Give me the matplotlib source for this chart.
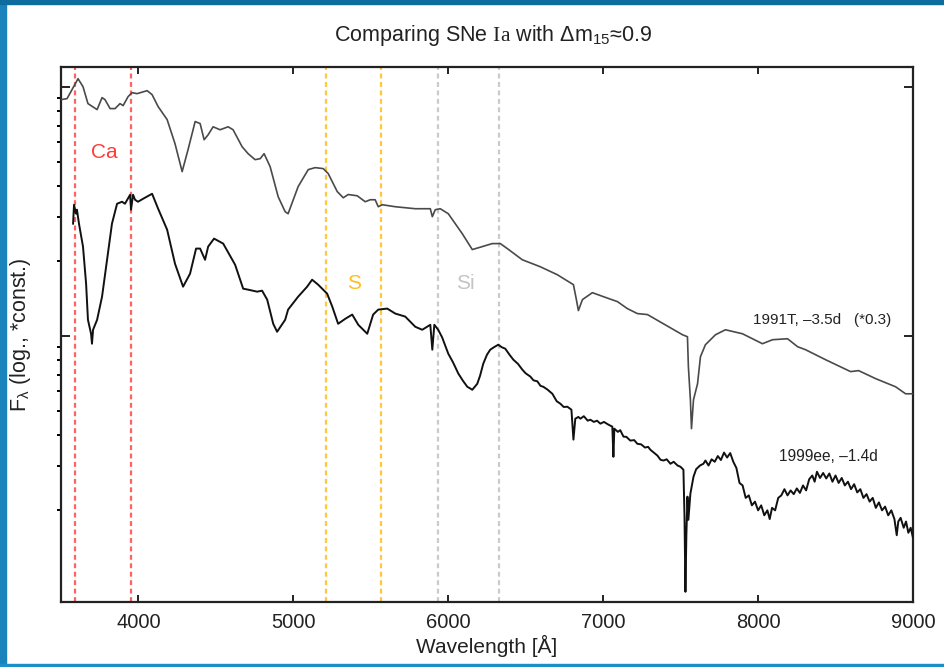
import matplotlib
matplotlib.use('Agg')
import matplotlib.pyplot as plt
from matplotlib.patches import Rectangle
from matplotlib.ticker import FixedLocator, NullFormatter
import numpy as np

plt.rcParams['font.family'] = ['Liberation Sans', 'DejaVu Sans']
plt.rcParams['mathtext.fontset'] = 'custom'
plt.rcParams['mathtext.rm'] = 'Liberation Serif'
plt.rcParams['mathtext.sf'] = 'Liberation Sans'
plt.rcParams['mathtext.it'] = 'Liberation Sans:italic'

# 1991T, -3.5d (scaled by 0.3): wavelength [A], log10 flux
wl_91t = [3500, 3539, 3610, 3642, 3674, 3733, 3765, 3784, 3817, 3849, 3881, 3901,
          3933, 3959, 3991, 4056, 4088, 4127, 4185, 4236, 4282, 4320, 4366, 4398,
          4424, 4450, 4482, 4527, 4579, 4611, 4669, 4708, 4753, 4786, 4811, 4850,
          4902, 4947, 4966, 5031, 5096, 5141, 5193, 5225, 5283, 5322, 5354, 5412,
          5464, 5496, 5528, 5548, 5574, 5658, 5787, 5884, 5897, 5916, 5948, 6000,
          6090, 6155, 6220, 6284, 6336, 6381, 6478, 6594, 6704, 6808, 6827, 6840,
          6866, 6930, 7001, 7092, 7156, 7221, 7286, 7389, 7512, 7544, 7550, 7563,
          7570, 7583, 7609, 7628, 7660, 7725, 7789, 7899, 8028, 8093, 8190, 8255,
          8306, 8435, 8597, 8649, 8758, 8888, 8952, 9000]
logf_91t = [0.949, 0.953, 1.033, 1.001, 0.933, 0.909, 0.957, 0.949, 0.913, 0.913, 0.933, 0.925,
            0.961, 0.977, 0.973, 0.985, 0.969, 0.921, 0.869, 0.772, 0.660, 0.748, 0.861, 0.853,
            0.788, 0.808, 0.840, 0.828, 0.840, 0.828, 0.760, 0.732, 0.708, 0.712, 0.732, 0.680,
            0.559, 0.499, 0.491, 0.600, 0.668, 0.676, 0.672, 0.652, 0.580, 0.555, 0.568, 0.563,
            0.539, 0.547, 0.547, 0.519, 0.527, 0.519, 0.511, 0.511, 0.479, 0.507, 0.511, 0.491,
            0.411, 0.347, 0.359, 0.371, 0.371, 0.351, 0.306, 0.278, 0.246, 0.206, 0.146, 0.102,
            0.146, 0.174, 0.158, 0.138, 0.110, 0.090, 0.086, 0.049, 0.005, -0.003, -0.123, -0.256,
            -0.372, -0.256, -0.192, -0.083, -0.035, 0.005, 0.025, 0.009, -0.031, -0.015, -0.011, -0.043,
            -0.055, -0.095, -0.143, -0.139, -0.171, -0.204, -0.232, -0.232]

# 1999ee, -1.4d: wavelength [A], log10 flux
wl_99ee = [3578, 3584, 3597, 3603, 3616, 3642, 3662, 3674, 3694, 3700, 3707, 3733,
           3765, 3797, 3829, 3862, 3894, 3913, 3946, 3952, 3965, 3978, 3997, 4030,
           4088, 4127, 4185, 4236, 4288, 4333, 4372, 4398, 4430, 4450, 4488, 4547,
           4624, 4676, 4708, 4766, 4798, 4831, 4870, 4895, 4947, 4966, 5031, 5089,
           5121, 5160, 5218, 5251, 5289, 5335, 5380, 5419, 5477, 5515, 5548, 5606,
           5658, 5722, 5787, 5832, 5884, 5897, 5910, 5935, 5960, 6000, 6030, 6065,
           6095, 6123, 6140, 6155, 6170, 6187, 6205, 6226, 6250, 6271, 6295, 6323,
           6345, 6368, 6395, 6420, 6450, 6478, 6500, 6530, 6550, 6575, 6595, 6614,
           6640, 6672, 6700, 6724, 6745, 6769, 6795, 6808, 6820, 6840, 6853, 6875,
           6900, 6917, 6940, 6960, 6982, 7005, 7034, 7059, 7066, 7072, 7095, 7110,
           7131, 7150, 7175, 7200, 7221, 7245, 7270, 7290, 7305, 7330, 7350, 7370,
           7390, 7410, 7434, 7455, 7480, 7499, 7518, 7525, 7531, 7537, 7544, 7550,
           7563, 7583, 7600, 7625, 7647, 7660, 7680, 7700, 7720, 7740, 7760, 7780,
           7800, 7820, 7840, 7860, 7880, 7900, 7920, 7940, 7960, 7980, 8000, 8020,
           8040, 8060, 8075, 8090, 8110, 8130, 8150, 8170, 8190, 8210, 8230, 8250,
           8270, 8290, 8310, 8330, 8350, 8365, 8380, 8400, 8420, 8440, 8460, 8480,
           8500, 8520, 8540, 8560, 8580, 8600, 8620, 8640, 8660, 8680, 8700, 8720,
           8740, 8760, 8780, 8800, 8820, 8840, 8860, 8880, 8895, 8905, 8920, 8940,
           8955, 8970, 8985, 9000]
logf_99ee = [0.451, 0.527, 0.491, 0.507, 0.451, 0.359, 0.210, 0.065, 0.009, -0.031, 0.025, 0.065,
             0.158, 0.306, 0.451, 0.531, 0.539, 0.531, 0.567, 0.507, 0.567, 0.547, 0.539, 0.551,
             0.571, 0.511, 0.427, 0.290, 0.198, 0.250, 0.351, 0.351, 0.306, 0.359, 0.391, 0.371,
             0.286, 0.190, 0.186, 0.178, 0.182, 0.146, 0.049, 0.017, 0.065, 0.106, 0.158, 0.198,
             0.226, 0.206, 0.170, 0.118, 0.049, 0.069, 0.086, 0.045, 0.009, 0.086, 0.106, 0.110,
             0.090, 0.078, 0.037, 0.025, 0.045, -0.055, 0.045, 0.025, -0.005, -0.071, -0.105, -0.151,
             -0.180, -0.204, -0.210, -0.216, -0.205, -0.192, -0.160, -0.111, -0.075, -0.055, -0.045, -0.035,
             -0.045, -0.051, -0.075, -0.095, -0.112, -0.135, -0.150, -0.163, -0.178, -0.182, -0.200, -0.204,
             -0.215, -0.232, -0.262, -0.272, -0.285, -0.284, -0.296, -0.416, -0.332, -0.325, -0.332, -0.322,
             -0.340, -0.336, -0.345, -0.340, -0.352, -0.345, -0.356, -0.364, -0.485, -0.372, -0.385, -0.378,
             -0.404, -0.405, -0.420, -0.418, -0.433, -0.435, -0.448, -0.445, -0.457, -0.470, -0.480, -0.497,
             -0.500, -0.495, -0.513, -0.505, -0.520, -0.525, -0.537, -0.726, -1.027, -0.800, -0.645, -0.738,
             -0.633, -0.565, -0.535, -0.520, -0.513, -0.500, -0.520, -0.495, -0.505, -0.482, -0.498, -0.468,
             -0.488, -0.470, -0.505, -0.530, -0.590, -0.600, -0.650, -0.640, -0.680, -0.665, -0.700, -0.680,
             -0.720, -0.700, -0.735, -0.690, -0.700, -0.650, -0.640, -0.615, -0.640, -0.620, -0.635, -0.612,
             -0.630, -0.600, -0.620, -0.575, -0.560, -0.585, -0.545, -0.570, -0.550, -0.572, -0.552, -0.585,
             -0.560, -0.590, -0.570, -0.600, -0.585, -0.615, -0.595, -0.628, -0.615, -0.650, -0.635, -0.665,
             -0.650, -0.690, -0.668, -0.700, -0.685, -0.720, -0.700, -0.735, -0.800, -0.745, -0.730, -0.770,
             -0.745, -0.790, -0.770, -0.810]

# line identifications
ca_lines = [3590, 3952]
s_lines = [5212, 5565]
si_lines = [5931, 6325]

fig = plt.figure(figsize=(9.45, 6.67), dpi=100)

# slide frame
fig.patches.append(Rectangle((0, 0), 6 / 945, 1, transform=fig.transFigure,
                             color='#1a83bc', zorder=0))
fig.patches.append(Rectangle((0, 1 - 4 / 667), 1, 4 / 667, transform=fig.transFigure,
                             color='#0f6c9f', zorder=0))
fig.patches.append(Rectangle((0, 0), 1, 3 / 667, transform=fig.transFigure,
                             color='#1b8fc8', zorder=0))

ax = fig.add_axes([61 / 945, 1 - 602 / 667, 852 / 945, 535 / 667])

dash = (0, (2.2, 1.6))
for w in ca_lines:
    ax.axvline(w, color='#ff6262', ls=dash, lw=1.6, zorder=1)
for w in s_lines:
    ax.axvline(w, color='#ffc83a', ls=dash, lw=1.6, zorder=1)
for w in si_lines:
    ax.axvline(w, color='#cacaca', ls=dash, lw=1.6, zorder=1)

ax.plot(wl_91t, 10 ** np.array(logf_91t), color='#4a4a4a', lw=1.2, zorder=3)
ax.plot(wl_99ee, 10 ** np.array(logf_99ee), color='#111111', lw=1.4, zorder=3)

ax.set_yscale('log')
ax.set_xlim(3500, 9000)
ax.set_ylim(10 ** -1.068, 10 ** 1.080)

ax.set_xticks([4000, 5000, 6000, 7000, 8000, 9000])
ax.yaxis.set_major_locator(FixedLocator([1, 10]))
ax.yaxis.set_minor_locator(FixedLocator([0.2, 0.3, 0.4, 0.5, 0.6, 0.7, 0.8, 0.9,
                                         2, 3, 4, 5, 6, 7, 8, 9]))
ax.yaxis.set_major_formatter(NullFormatter())
ax.yaxis.set_minor_formatter(NullFormatter())

ax.tick_params(direction='in', top=True, right=True, width=1.4, colors='#222222',
               labelcolor='#222222', labelsize=14.5, pad=8)
ax.tick_params(axis='x', which='major', length=5)
ax.tick_params(axis='y', which='major', length=6.5)
ax.tick_params(axis='y', which='minor', length=3, width=1.4)
for sp in ax.spines.values():
    sp.set_linewidth(1.6)
    sp.set_color('#222222')

# element labels
ax.text(3778, 5.45, 'Ca', color='#ff3b3b', fontsize=15, ha='center', va='center')
ax.text(5393, 1.62, 'S', color='#ffbf1f', fontsize=15, ha='center', va='center')
ax.text(6110, 1.62, 'Si', color='#c4c4c4', fontsize=15, ha='center', va='center')

# spectrum labels
ax.text(7964, 1.16, '1991T, \u20133.5d   (*0.3)', fontsize=11, color='#222222',
        ha='left', va='center')
ax.text(8138, 0.327, '1999ee, \u20131.4d', fontsize=11.2, color='#222222',
        ha='left', va='center')

fig.text(493 / 945, 1 - 35 / 667,
         'Comparing SNe $\\mathrm{Ia}$ with \u0394m$_\\mathsf{15}$\u22480.9',
         fontsize=15.5, color='#222222', ha='center', va='center')
ax.set_xlabel('Wavelength [\u00c5]', fontsize=15, color='#222222', labelpad=2)
ax.set_ylabel('F$_\\mathsf{\u03bb}$ (log., *const.)', fontsize=15.5, color='#222222',
              labelpad=12)

fig.savefig('out.png', dpi=100, facecolor='white')
